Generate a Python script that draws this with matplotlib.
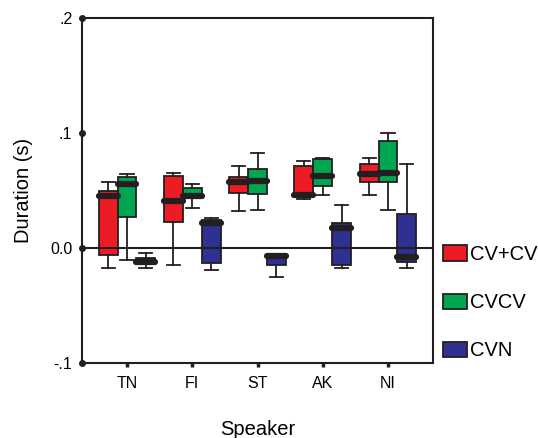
import numpy as np
import matplotlib.pyplot as plt
from matplotlib.patches import Patch

plt.rcParams['font.family'] = ['Liberation Sans', 'DejaVu Sans']

speakers = ['TN', 'FI', 'ST', 'AK', 'NI']
conditions = ['CV+CV', 'CVCV', 'CVN']
colors = ['#ED1C24', '#00A651', '#2E3192']

# per condition, one value per speaker
whislo = {'CV+CV': [-0.017, -0.015, 0.032, 0.043, 0.046],
          'CVCV':  [-0.010, 0.035, 0.033, 0.046, 0.033],
          'CVN':   [-0.017, -0.019, -0.025, -0.017, -0.017]}
q1 = {'CV+CV': [-0.006, 0.023, 0.048, 0.044, 0.057],
      'CVCV':  [0.027, 0.045, 0.047, 0.054, 0.057],
      'CVN':   [-0.014, -0.013, -0.015, -0.015, -0.012]}
med = {'CV+CV': [0.045, 0.041, 0.057, 0.046, 0.064],
       'CVCV':  [0.056, 0.045, 0.058, 0.063, 0.065],
       'CVN':   [-0.012, 0.022, -0.007, 0.017, -0.008]}
q3 = {'CV+CV': [0.050, 0.063, 0.062, 0.071, 0.073],
      'CVCV':  [0.062, 0.052, 0.069, 0.077, 0.093],
      'CVN':   [-0.009, 0.024, -0.005, 0.022, 0.030]}
whishi = {'CV+CV': [0.057, 0.065, 0.071, 0.076, 0.078],
          'CVCV':  [0.064, 0.056, 0.083, 0.078, 0.100],
          'CVN':   [-0.004, 0.026, -0.005, 0.037, 0.073]}

yticks = [-0.1, 0.0, 0.1, 0.2]
ytick_labels = ['-.1', '0.0', '.1', '.2']

edge = '#231F20'

fig = plt.figure(figsize=(5.38, 4.38), dpi=100)
ax = fig.add_axes([82/538, 75/438, 351/538, 345/438])

x = np.arange(len(speakers))
w = 0.29
for k, cond in enumerate(conditions):
    stats = []
    for i in range(len(speakers)):
        stats.append(dict(whislo=whislo[cond][i], q1=q1[cond][i], med=med[cond][i],
                          q3=q3[cond][i], whishi=whishi[cond][i], fliers=[]))
    ax.bxp(stats, positions=x + (k - 1) * w, widths=w, patch_artist=True,
           showfliers=False, capwidths=0.2, manage_ticks=False,
           boxprops=dict(facecolor=colors[k], edgecolor=edge, linewidth=1.3),
           whiskerprops=dict(color=edge, linewidth=1.3),
           capprops=dict(color=edge, linewidth=1.3),
           medianprops=dict(color=edge, linewidth=4.5, solid_capstyle='round'))

ax.axhline(0, color=edge, linewidth=1.5, zorder=5)

ax.set_xlim(-0.69, 4.69)
ax.set_ylim(-0.1, 0.2)
ax.set_xticks(x)
ax.set_xticklabels(speakers, fontsize=11.5)
ax.set_yticks(yticks)
ax.set_yticklabels(ytick_labels, fontsize=11.5)
ax.tick_params(axis='y', length=0, pad=7)
ax.tick_params(axis='x', length=3, width=2.5, direction='out', pad=6, color=edge)
ax.plot(np.zeros(len(yticks)), yticks, 'o', color=edge, markersize=4,
        transform=ax.get_yaxis_transform(), clip_on=False, zorder=6)
for s in ax.spines.values():
    s.set_color(edge)
    s.set_linewidth(1.5)

ax.set_ylabel('Duration (s)', fontsize=14.5, labelpad=12)
ax.set_xlabel('Speaker', fontsize=14.5, labelpad=21)

handles = [Patch(facecolor=c, edgecolor=edge, linewidth=1.3) for c in colors]
fig.legend(handles, conditions, loc='upper left', bbox_to_anchor=(443/538, 193/438),
           frameon=False, fontsize=14.5, handlelength=1.2, handleheight=0.8,
           labelspacing=1.45, handletextpad=0.15, borderpad=0, borderaxespad=0)

fig.savefig('out.png', dpi=100)
